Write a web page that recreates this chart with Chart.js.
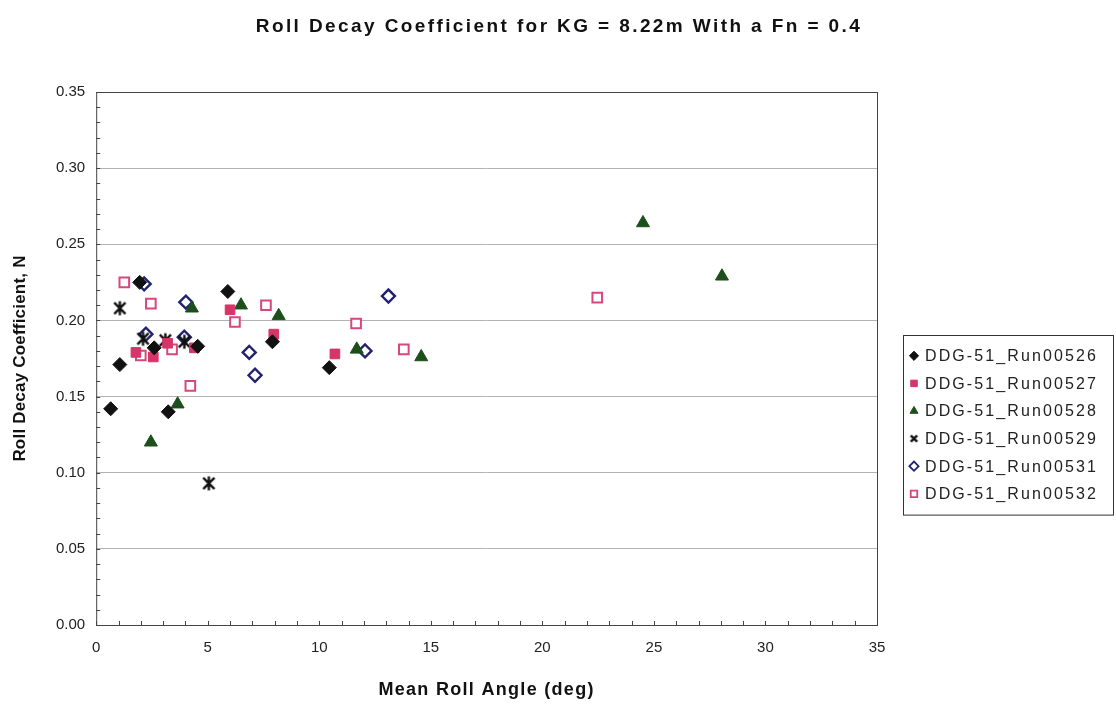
<!DOCTYPE html>
<html>
<head>
<meta charset="utf-8">
<script src="https://cdn.jsdelivr.net/npm/chart.js@4.4.1/dist/chart.umd.min.js"></script>
<style>
  html, body { margin: 0; padding: 0; background: #fff; }
</style>
</head>
<body>
<canvas id="roll-chart" width="1116" height="705"></canvas>
<script>
// values
const seriesLabels = ['DDG-51_Run00526', 'DDG-51_Run00527', 'DDG-51_Run00528',
                      'DDG-51_Run00529', 'DDG-51_Run00531', 'DDG-51_Run00532'];

const run526_x = [0.65, 1.06, 1.95, 2.6, 3.23, 4.55, 5.9, 7.9, 10.45];
const run526_y = [0.142, 0.171, 0.225, 0.182, 0.140, 0.183, 0.219, 0.186, 0.169];

const run527_x = [1.78, 2.56, 3.2, 4.4, 6.0, 7.96, 10.7];
const run527_y = [0.179, 0.176, 0.185, 0.182, 0.207, 0.191, 0.178];

const run528_x = [2.45, 3.65, 4.29, 6.49, 8.18, 11.68, 14.57, 24.51, 28.05];
const run528_y = [0.120, 0.145, 0.208, 0.210, 0.203, 0.181, 0.176, 0.264, 0.229];

const run529_x = [1.06, 2.1, 3.1, 3.95, 5.05];
const run529_y = [0.208, 0.188, 0.187, 0.186, 0.093];

const run531_x = [2.15, 2.23, 3.95, 4.02, 6.86, 7.12, 12.05, 13.1];
const run531_y = [0.224, 0.191, 0.189, 0.212, 0.179, 0.164, 0.180, 0.216];

const run532_x = [1.26, 2.0, 2.45, 3.4, 4.22, 6.22, 7.61, 11.65, 13.79, 22.46];
const run532_y = [0.225, 0.177, 0.211, 0.181, 0.157, 0.199, 0.210, 0.198, 0.181, 0.215];

const xMax = 35, xStep = 5, xMinor = 1;
const yMax = 0.35, yStep = 0.05, yMinor = 0.01;

const chartTitle = 'Roll Decay Coefficient for KG = 8.22m With a Fn = 0.4';
const xTitle = 'Mean Roll Angle (deg)';
const yTitle = 'Roll Decay Coefficient, N';

const FONT = "'Liberation Sans', Arial, sans-serif";

function toPoints(xs, ys) {
    return xs.map((x, i) => ({ x: x, y: ys[i] }));
}

// excel style star: an X with a vertical stroke
function makeStar(size, color, withBar) {
    const c = document.createElement('canvas');
    c.width = size; c.height = size;
    const g = c.getContext('2d');
    const m = size / 2, r = size / 2 - 1.5;
    g.strokeStyle = color;
    g.lineWidth = 2.4;
    g.beginPath();
    g.moveTo(m - r * 0.8, m - r * 0.8); g.lineTo(m + r * 0.8, m + r * 0.8);
    g.moveTo(m + r * 0.8, m - r * 0.8); g.lineTo(m - r * 0.8, m + r * 0.8);
    if (withBar) { g.moveTo(m, m - r); g.lineTo(m, m + r); }
    g.stroke();
    return c;
}

const starImg = makeStar(17, '#111111', true);
const starLegendImg = makeStar(11, '#111111', false);

const datasets = [
    { label: seriesLabels[0], data: toPoints(run526_x, run526_y),
      pointStyle: 'rectRot', radius: 7, backgroundColor: '#111111', borderColor: '#111111', borderWidth: 1 },
    { label: seriesLabels[1], data: toPoints(run527_x, run527_y),
      pointStyle: 'rect', radius: 6.8, backgroundColor: '#d63568', borderColor: '#d63568', borderWidth: 1 },
    { label: seriesLabels[2], data: toPoints(run528_x, run528_y),
      pointStyle: 'triangle', radius: 7.5, backgroundColor: '#1c4f1c', borderColor: '#1c4f1c', borderWidth: 1 },
    { label: seriesLabels[3], data: toPoints(run529_x, run529_y),
      pointStyle: starImg, radius: 8, backgroundColor: '#111111', borderColor: '#111111', borderWidth: 1 },
    { label: seriesLabels[4], data: toPoints(run531_x, run531_y),
      pointStyle: 'rectRot', radius: 6.5, backgroundColor: '#ffffff', borderColor: '#22226e', borderWidth: 2.4 },
    { label: seriesLabels[5], data: toPoints(run532_x, run532_y),
      pointStyle: 'rect', radius: 6.8, backgroundColor: '#ffffff', borderColor: '#d8467c', borderWidth: 2 }
];

// plot frame plus small inside ticks like the excel chart
const frameTicks = {
    id: 'frameTicks',
    beforeDatasetsDraw(chart) {
        const { ctx, chartArea: a, scales } = chart;
        ctx.save();
        ctx.strokeStyle = '#444';
        ctx.lineWidth = 1;
        ctx.strokeRect(a.left + 0.5, a.top + 0.5, a.right - a.left, a.bottom - a.top);
        ctx.beginPath();
        for (let v = 0; v <= xMax + 1e-9; v += xMinor) {
            const px = Math.round(scales.x.getPixelForValue(v)) + 0.5;
            ctx.moveTo(px, a.bottom);
            ctx.lineTo(px, a.bottom - 4);
        }
        for (let v = 0; v <= yMax + 1e-9; v += yMinor) {
            const py = Math.round(scales.y.getPixelForValue(v)) + 0.5;
            ctx.moveTo(a.left, py);
            ctx.lineTo(a.left + 4, py);
        }
        ctx.stroke();
        ctx.restore();
    }
};

// titles with a little letter spacing, like the scanned original
const spacedTitles = {
    id: 'spacedTitles',
    afterDraw(chart) {
        const { ctx, chartArea: a } = chart;
        ctx.save();
        ctx.fillStyle = '#111';
        ctx.textAlign = 'center';
        ctx.textBaseline = 'middle';

        ctx.font = 'bold 19px ' + FONT;
        ctx.letterSpacing = '2.4px';
        ctx.fillText(chartTitle, chart.width / 2 + 1, 27);

        ctx.font = 'bold 18px ' + FONT;
        ctx.letterSpacing = '1.3px';
        ctx.fillText(xTitle, (a.left + a.right) / 2, 690);

        ctx.font = 'bold 17px ' + FONT;
        ctx.letterSpacing = '0.2px';
        ctx.translate(20, (a.top + a.bottom) / 2);
        ctx.rotate(-Math.PI / 2);
        ctx.fillText(yTitle, 0, 0);
        ctx.restore();
    }
};

// boxed legend at the right
const boxLegend = {
    id: 'boxLegend',
    afterDraw(chart) {
        const { ctx, chartArea: a } = chart;
        const rowH = 27.6, w = 210;
        const h = rowH * datasets.length + 14;
        const x0 = a.right + 26;
        const y0 = 335;
        ctx.save();
        ctx.fillStyle = '#fff';
        ctx.fillRect(x0, y0, w, h);
        ctx.strokeStyle = '#333';
        ctx.lineWidth = 1;
        ctx.strokeRect(x0 + 0.5, y0 + 0.5, w, h);
        datasets.forEach((ds, i) => {
            const cy = y0 + 7 + rowH * (i + 0.5);
            ctx.fillStyle = ds.backgroundColor;
            ctx.strokeStyle = ds.borderColor;
            ctx.lineWidth = Math.min(ds.borderWidth, 1.8);
            Chart.helpers.drawPoint(ctx, {
                pointStyle: ds.pointStyle === starImg ? starLegendImg : ds.pointStyle,
                radius: 4.6, rotation: 0, borderWidth: ds.borderWidth
            }, x0 + 11, cy);
            ctx.font = '16px ' + FONT;
            ctx.letterSpacing = '2.1px';
            ctx.textBaseline = 'middle';
            ctx.fillStyle = '#222';
            ctx.fillText(ds.label, x0 + 22, cy + 1);
        });
        ctx.restore();
    }
};

new Chart(document.getElementById('roll-chart'), {
    type: 'scatter',
    data: { datasets: datasets },
    plugins: [frameTicks, spacedTitles, boxLegend],
    options: {
        responsive: false,
        animation: false,
        layout: { padding: { left: 45, right: 239, top: 92, bottom: 34 } },
        plugins: {
            legend: { display: false },
            tooltip: { enabled: false },
            title: { display: false }
        },
        scales: {
            x: {
                type: 'linear',
                min: 0, max: xMax,
                ticks: { stepSize: xStep, color: '#222', font: { family: FONT, size: 15 }, padding: 14, maxRotation: 0 },
                grid: { display: false, drawTicks: false },
                border: { display: false }
            },
            y: {
                min: 0, max: yMax,
                ticks: {
                    stepSize: yStep, color: '#222', font: { family: FONT, size: 15 }, padding: 11,
                    callback: v => Number(v).toFixed(2)
                },
                grid: { color: '#b4b4b4', lineWidth: 1, drawTicks: false },
                border: { display: false }
            }
        }
    }
});
</script>
</body>
</html>
